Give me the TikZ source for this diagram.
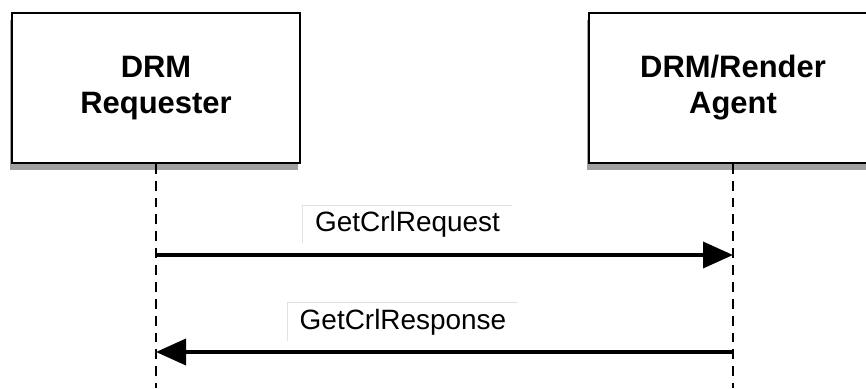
\documentclass[tikz,border=0pt]{standalone}
\usepackage{fontspec}
\setmainfont{Liberation Sans}
\usepackage{tikz}
\usetikzlibrary{arrows.meta, positioning, shadows}
\definecolor{shadowgray}{RGB}{120, 120, 120}
\definecolor{labeledge}{RGB}{225, 225, 225}

\begin{document}
\begin{tikzpicture}[
    party/.style={draw, line width=1pt, fill=white, minimum width=5.76cm, minimum height=3cm, align=center,
        font=\fontsize{17.6}{20.5}\selectfont\bfseries,
        drop shadow={shadow xshift=-0.04cm, shadow yshift=-0.14cm, fill=shadowgray, opacity=0.7}},
    lifeline/.style={line width=0.9pt, dash pattern=on 5.6pt off 4pt},
    msg/.style={line width=2.1pt, -{Triangle[length=0.6cm, width=0.52cm]}},
    msglabel/.style={fill=white, inner sep=0pt, font=\fontsize{15.9}{18}\selectfont},
    labelrule/.style={draw=labeledge, line width=0.5pt},
]
    \useasboundingbox (0, 0) rectangle (17.32, 7.76);
    \clip (0, 0) rectangle (17.32, 7.76);

    % Parties
    \node[party] (requester) at (3.12, 6.0) {DRM\\Requester};
    \node[party] (agent) at (14.66, 6.0) {DRM/Render\\Agent};

    % Lifelines
    \coordinate (reqend) at (3.12, 0);
    \coordinate (agtend) at (14.66, 0);
    \draw[lifeline] (requester.south) -- (reqend);
    \draw[lifeline] (agent.south) -- (agtend);

    % Messages
    \coordinate (req1) at (3.12, 2.66);
    \coordinate (agt1) at (14.66, 2.66);
    \coordinate (req2) at (3.12, 0.72);
    \coordinate (agt2) at (14.66, 0.72);
    \draw[msg] (req1) -- (agt1);
    \draw[msg] (agt2) -- (req2);

    % Labels
    \node[msglabel, minimum width=4.18cm, minimum height=0.74cm] (reqlabel) at (8.15, 3.27) {GetCrlRequest};
    \node[msglabel, minimum width=4.6cm, minimum height=0.76cm] (resplabel) at (8.06, 1.32) {GetCrlResponse};
    \draw[labelrule] (reqlabel.south west) |- (reqlabel.north east);
    \draw[labelrule] (resplabel.south west) |- (resplabel.north east);

\end{tikzpicture}
\end{document}
